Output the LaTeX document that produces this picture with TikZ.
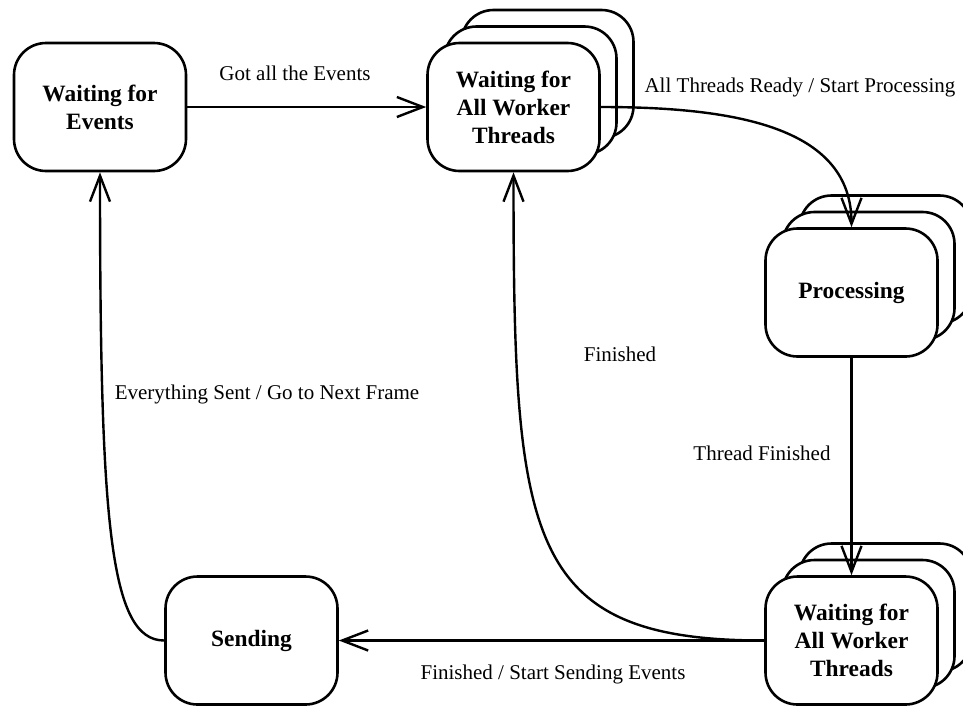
\documentclass[tikz,border=0pt]{standalone}
\usepackage{fontspec}
\setmainfont{Liberation Serif}
\usetikzlibrary{arrows.meta}

\tikzset{
  statebox/.style={draw, fill=white, line width=1.3pt, rectangle,
    rounded corners=16pt, minimum width=86pt, minimum height=64pt,
    inner sep=0pt, align=center,
    font=\bfseries\fontsize{11.7}{14}\selectfont},
  ghostbox/.style={statebox},
  arr/.style={line width=1.2pt, -{Straight Barb[length=13pt,width=10pt,line width=1.2pt]}},
  lbl/.style={inner sep=0pt, font=\fontsize{10.5}{12}\selectfont}
}

\begin{document}
\begin{tikzpicture}[x=0.5pt, y=-0.5pt]
  \useasboundingbox (0,0) rectangle (963,708);

  % single state: waiting for events
  \node[statebox] (b1) at (100,107) {Waiting for\\Events};

  % stacked state: waiting for all worker threads (top)
  \node[ghostbox] (b2c) at (547.5,74) {};
  \node[ghostbox] (b2b) at (530.5,90.5) {};
  \node[statebox] (b2) at (513.5,107) {Waiting for\\All Worker\\Threads};

  % stacked state: processing
  \node[ghostbox] (prc) at (885.5,259.5) {};
  \node[ghostbox] (prb) at (868.5,276) {};
  \node[statebox] (pr) at (851.5,292.5) {Processing};

  % stacked state: waiting for all worker threads (bottom)
  \node[ghostbox] (w2c) at (885.5,607.5) {};
  \node[ghostbox] (w2b) at (868.5,624) {};
  \node[statebox] (w2) at (851.5,640.5) {Waiting for\\All Worker\\Threads};

  % single state: sending
  \node[statebox] (snd) at (251.5,640.5) {Sending};

  % transitions
  \draw[arr] (b1.east) -- (b2.west);
  \draw[arr] (b2.east) .. controls +(140,0) and +(0,-98) .. (pr.north);
  \draw[arr] (pr.south) -- (w2.north);
  \draw[arr] (w2.west) -- (snd.east);
  \draw[arr] (w2.west) .. controls +(-240,0) and +(0,368) .. (b2.south);
  \draw[arr] (snd.west) .. controls +(-55,0) and +(0,348) .. (b1.south);

  % transition labels
  \node[lbl] (l1) at (295,73) {Got all the Events};
  \node[lbl] (l2) at (800,87) {All Threads Ready / Start Processing};
  \node[lbl] (l3) at (762,453) {Thread Finished};
  \node[lbl] (l4) at (620,354) {Finished};
  \node[lbl] (l5) at (267,394) {Everything Sent / Go to Next Frame};
  \node[lbl] (l6) at (553,674) {Finished / Start Sending Events};
\end{tikzpicture}
\end{document}
